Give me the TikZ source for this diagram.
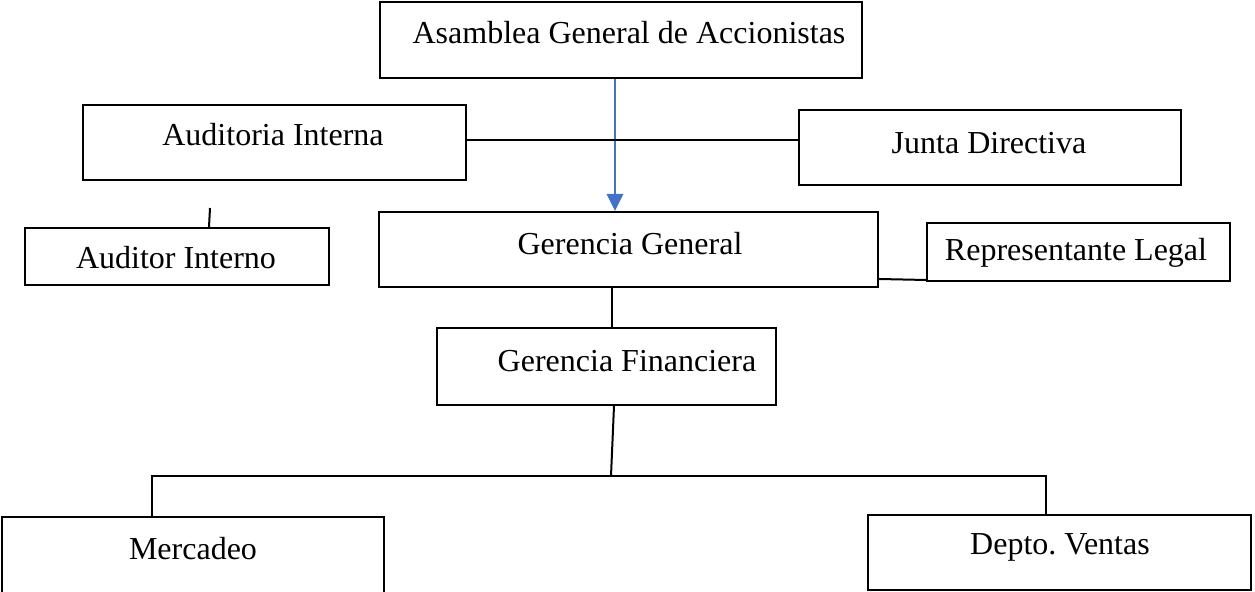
\documentclass[tikz,border=0pt]{standalone}
\usepackage{fontspec}
\setmainfont{Liberation Serif}
\usetikzlibrary{arrows.meta}
\definecolor{arrowblue}{RGB}{68,114,196}
\frenchspacing
\tikzset{
  box/.style={draw=black, line width=1pt, inner sep=0pt, fill=none},
  lbl/.style={inner sep=0pt, font=\fontsize{16}{19}\selectfont, anchor=center},
  conn/.style={draw=black, line width=1pt},
  blueconn/.style={draw=arrowblue, line width=1.4pt, -{Triangle[length=8.5pt,width=8pt]}}
}
\begin{document}
\begin{tikzpicture}[x=0.5pt,y=-0.5pt]
\useasboundingbox (0,0) rectangle (1255,592);
\begin{scope}
\clip (0,0) rectangle (1255,592);
% boxes
\node[box, minimum width=241pt, minimum height=38pt] (asamblea) at (621,40) {};
\node[box, minimum width=191.5pt, minimum height=37.5pt] (auditoria) at (274.5,142.5) {};
\node[box, minimum width=191pt, minimum height=37.5pt] (junta) at (990,147.5) {};
\node[box, minimum width=249.5pt, minimum height=37.5pt] (gg) at (628.5,249.5) {};
\node[box, minimum width=151.5pt, minimum height=29pt] (rep) at (1078.5,252) {};
\node[box, minimum width=152pt, minimum height=28.5pt] (auditor) at (177,256.5) {};
\node[box, minimum width=169.5pt, minimum height=38.5pt] (gf) at (606.5,366.5) {};
\node[box, minimum width=191pt, minimum height=40pt] (merc) at (193,557) {};
\node[box, minimum width=191.5pt, minimum height=37.5pt] (ventas) at (1059.5,552.5) {};
% labels
\node[lbl] (tAsamblea) at (629,33) {Asamblea General de Accionistas};
\node[lbl] (tAuditoria) at (273,135) {Auditoria Interna};
\node[lbl] (tJunta) at (989,143) {Junta Directiva};
\node[lbl] (tGG) at (630,244) {Gerencia General};
\node[lbl] (tRep) at (1076,253) {Representante Legal};
\node[lbl] (tAuditor) at (176,258) {Auditor Interno};
\node[lbl] (tGF) at (627,361) {Gerencia Financiera};
\node[lbl] (tMerc) at (193,549) {Mercadeo};
\node[lbl] (tVentas) at (1060,547) {Depto. Ventas};
% connectors
\coordinate (ca) at (615,0);
\draw[blueconn] (asamblea.south -| ca) -- (gg.north -| ca);
\coordinate (ch) at (0,140);
\draw[conn] (auditoria.east |- ch) -- (junta.west |- ch);
\coordinate (cAud) at (210,208);
\draw[conn] (cAud) -- (auditor.north -| 209,0);
\draw[conn] ([yshift=4.5pt]gg.south east) -- ([yshift=1pt]rep.south west);
\coordinate (cg) at (612,0);
\draw[conn] (gg.south -| cg) -- (gf.north -| cg);
\coordinate (j) at (611,476);
\coordinate (jl) at (152,476);
\coordinate (jr) at (1046,476);
\draw[conn] (gf.south -| 614,0) -- (j);
\draw[conn] (merc.north -| jl) -- (jl) -- (jr) -- (ventas.north -| jr);
\end{scope}
\end{tikzpicture}
\end{document}
